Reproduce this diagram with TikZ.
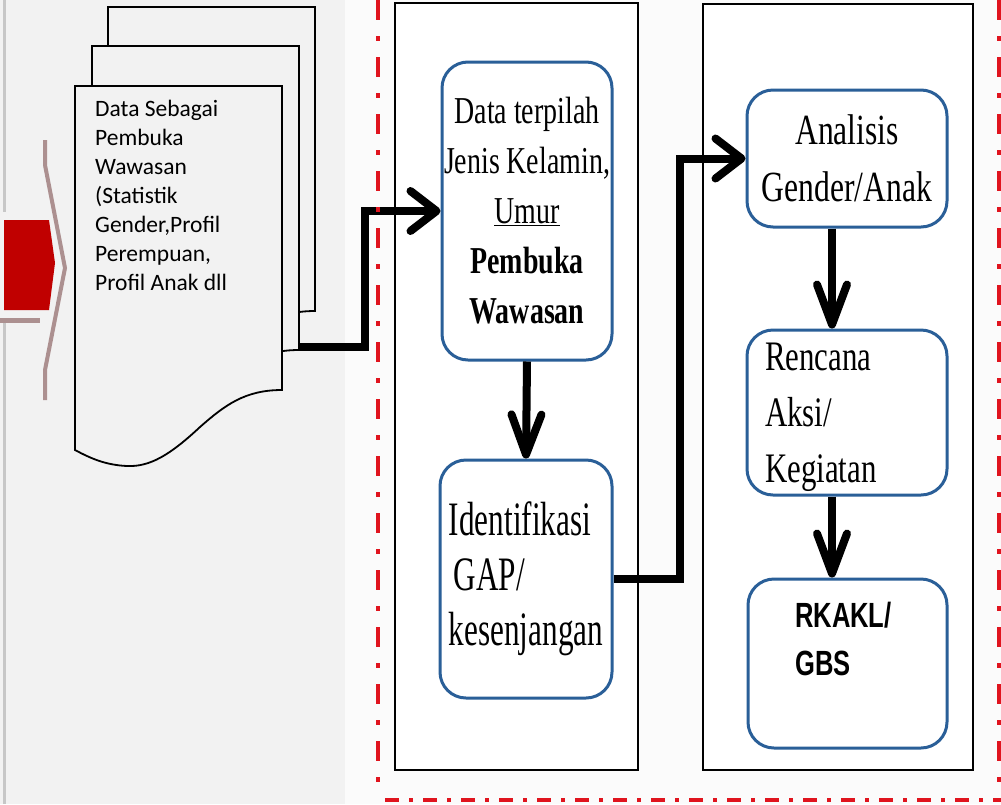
\documentclass[tikz,border=0pt]{standalone}
\usepackage{fontspec}
\setmainfont{Liberation Serif}
\newfontfamily\docfont{Carlito}
\newfontfamily\serA[FakeStretch=0.735]{Liberation Serif}
\newfontfamily\serB[FakeStretch=0.65]{Liberation Serif}
\newfontfamily\sansC[FakeStretch=0.73]{Liberation Sans}
\usetikzlibrary{arrows.meta,calc}
\definecolor{bgleft}{HTML}{F2F2F2}
\definecolor{bgright}{HTML}{FBFBFB}
\definecolor{boxblue}{HTML}{2A5F98}
\definecolor{dashred}{HTML}{E0141E}
\definecolor{mauve}{HTML}{AC9090}
\definecolor{darkred}{HTML}{C00000}
\newcommand\docpage[1]{\filldraw[page,shift={#1}] (75,86) -- (282,86) -- (282,390)
  .. controls (245,390) and (225,405) .. (200,427)
  .. controls (170,455) and (150,467) .. (127,466)
  .. controls (105,465) and (90,458) .. (75,450) -- cycle;}
\begin{document}
\begin{tikzpicture}[x=1pt,y=-1pt,
  page/.style={fill=bgleft,draw=black,line width=1.8pt},
  frame/.style={draw=black,line width=1.8pt,fill=white},
  rbox/.style={draw=boxblue,line width=3pt,fill=white,rounded corners=26pt,inner sep=0pt},
  conn/.style={line width=8pt,draw=black},
  harrow/.style={-{Straight Barb[length=26pt,width=40pt,round]}},
  varrow/.style={-{Straight Barb[length=40pt,width=30pt,round]}},
  vdash/.style={dashred,line width=4pt,dash pattern=on 20pt off 16pt on 5pt off 16pt},
  hdash/.style={dashred,line width=4.5pt,dash pattern=on 14pt off 10pt on 4pt off 10pt}]
\useasboundingbox (0,0) rectangle (1001,804);
\fill[bgleft] (0,0) rectangle (345,804);
\fill[bgright] (345,0) rectangle (1001,804);
% left decorations
\draw[line width=3pt,black!22] (4,0) -- (4,212);
\draw[line width=3pt,black!22] (4,318) -- (4,804);
\fill[darkred] (4,220) -- (49,220) -- (55,263) -- (49,310) -- (4,310) -- cycle;
\draw[mauve,line width=4pt] (45,140) -- (45,165) -- (65,268) -- (45,370) -- (45,400);
\draw[mauve,line width=5pt] (0,320) -- (40,320);
% document pages
\docpage{(33,-79)}
\docpage{(17,-40)}
\docpage{(0,0)}
\node[anchor=base west,align=left,inner sep=0pt,font=\docfont\fontsize{23.5}{29}\selectfont] (doctxt) at (95,290)
  {Data Sebagai\\Pembuka\\Wawasan\\(Statistik\\Gender,Profil\\Perempuan,\\Profil Anak dll};
% section frames
\draw[frame] (395,3) rectangle (638,770);
\draw[frame] (703,4) rectangle (973,770);
% boxes
\node[rbox,minimum width=170pt,minimum height=298pt,align=center,font=\serA\fontsize{38}{50}\selectfont] (boxA) at (527,211)
  {Data terpilah\\Jenis Kelamin,\\\underline{Umur}\\\textbf{Pembuka}\\\textbf{Wawasan}};
\node[rbox,minimum width=172pt,minimum height=238pt,align=left,font=\serB\fontsize{48}{55}\selectfont] (boxB) at (526,579)
  {Identifikasi\\\hspace*{5pt}GAP/\\kesenjangan};
\node[rbox,minimum width=200pt,minimum height=137pt,align=center,font=\serA\fontsize{43}{57}\selectfont] (boxC) at (847,158.5)
  {Analisis\\Gender/Anak};
\node[rbox,minimum width=200pt,minimum height=165pt] (boxD) at (847,412.5) {};
\node[anchor=base west,align=left,inner sep=0pt,font=\serA\fontsize{42}{56}\selectfont] (txtD) at (765,482)
  {Rencana\\Aksi/\\Kegiatan};
\node[rbox,minimum width=199pt,minimum height=169pt] (boxE) at (847.5,663.5) {};
\node[anchor=base west,align=left,inner sep=0pt,font=\sansC\bfseries\fontsize{35}{48}\selectfont] (txtE) at (795,675)
  {RKAKL/\\GBS};
% connectors
\coordinate (docout) at (300,347);
\coordinate (j1) at (365,347);
\coordinate (j2) at (680,0);
\coordinate (xc) at (832,0);
\draw[conn,harrow] (docout) -- (j1) |- (boxA.west);
\draw[conn,varrow] (boxA.south) -- (boxB.north);
\draw[conn,harrow] (boxB.east) -- (boxB.east -| j2) |- (boxC.west);
\draw[conn,varrow] (boxC.south -| xc) -- (boxD.north -| xc);
\draw[conn,varrow] (boxD.south -| xc) -- (boxE.north -| xc);
% red dash-dot border
\draw[vdash] (378,0) -- (378,796);
\draw[hdash] (385,800) -- (1001,800);
\draw[vdash] (999,0) -- (999,796);
\end{tikzpicture}
\end{document}
